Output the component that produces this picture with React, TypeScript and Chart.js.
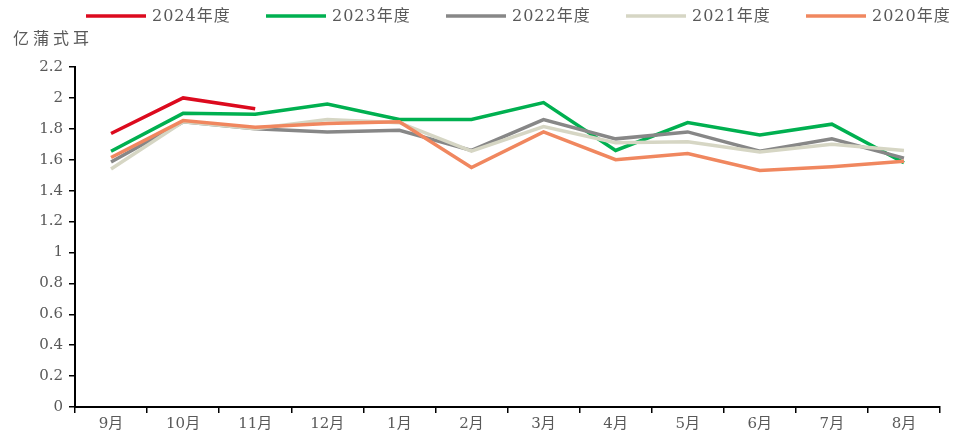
import React, { useEffect, useRef } from 'react';
import { Chart, registerables } from 'chart.js';

Chart.register(...registerables);

const months = ['9月', '10月', '11月', '12月', '1月', '2月', '3月', '4月', '5月', '6月', '7月', '8月'];
const seriesNames = ['2024年度', '2023年度', '2022年度', '2021年度', '2020年度'];
const s2024 = [1.77, 2.0, 1.93, null, null, null, null, null, null, null, null, null];
const s2023 = [1.655, 1.9, 1.895, 1.96, 1.86, 1.86, 1.97, 1.66, 1.84, 1.76, 1.83, 1.58];
const s2022 = [1.585, 1.845, 1.8, 1.78, 1.79, 1.66, 1.86, 1.735, 1.78, 1.655, 1.735, 1.61];
const s2021 = [1.54, 1.845, 1.8, 1.86, 1.84, 1.655, 1.815, 1.71, 1.717, 1.65, 1.7, 1.66];
const s2020 = [1.614, 1.853, 1.81, 1.835, 1.845, 1.55, 1.78, 1.6, 1.64, 1.53, 1.555, 1.59];
const colors = ['#DC0A1E', '#00B050', '#878787', '#D6D6C4', '#F0875F'];
const unitLabel = '亿蒲式耳';

const FONT = "'DejaVu Serif', 'Noto Sans CJK SC', serif";
const TEXT = '#595959';

const customLegend = {
  id: 'customLegend',
  afterDraw(chart: any) {
    const ctx = chart.ctx;
    ctx.save();
    // unit label
    ctx.font = `16px ${FONT}`;
    ctx.fillStyle = TEXT;
    ctx.textBaseline = 'middle';
    ctx.textAlign = 'left';
    try { (ctx as any).letterSpacing = '4px'; } catch (e) {}
    ctx.fillText(unitLabel, 13, 40);
    try { (ctx as any).letterSpacing = '1px'; } catch (e) {}
    // legend
    seriesNames.forEach((name, i) => {
      const x0 = 86 + i * 180;
      const y = 16;
      ctx.strokeStyle = colors[i];
      ctx.lineWidth = 3.5;
      ctx.beginPath();
      ctx.moveTo(x0, y);
      ctx.lineTo(x0 + 60, y);
      ctx.stroke();
      ctx.fillStyle = TEXT;
      ctx.font = `16px ${FONT}`;
      ctx.fillText(name, x0 + 66, y + 1);
    });
    ctx.restore();
  },
};

export default function App() {
  const ref = useRef<HTMLCanvasElement>(null);
  useEffect(() => {
    if (!ref.current) return;
    const allSeries = [s2024, s2023, s2022, s2021, s2020];
    const chart = new Chart(ref.current, {
      type: 'line',
      data: {
        labels: months,
        datasets: allSeries.map((d, i) => ({
          label: seriesNames[i],
          data: d,
          borderColor: colors[i],
          backgroundColor: colors[i],
          borderWidth: 3.5,
          pointRadius: 0,
          tension: 0,
          spanGaps: false,
          order: 5 - i,
        })),
      },
      options: {
        animation: false,
        responsive: false,
        layout: { padding: { top: 67, right: 16, left: 0, bottom: 0 } },
        plugins: {
          legend: { display: false },
          tooltip: { enabled: false },
        },
        scales: {
          x: {
            offset: true,
            grid: {
              display: true,
              drawOnChartArea: false,
              drawTicks: true,
              tickLength: 6,
              color: '#000',
              lineWidth: 1.5,
              offset: true,
            },
            border: { display: true, color: '#000', width: 2 },
            ticks: { color: TEXT, font: { family: FONT, size: 15 }, padding: 2, maxRotation: 0, autoSkip: false },
            afterFit: (scale: any) => { scale.height = 26; },
          },
          y: {
            min: 0,
            max: 2.2,
            grid: {
              display: true,
              drawOnChartArea: false,
              drawTicks: true,
              tickLength: 6,
              color: '#000',
              lineWidth: 1.5,
            },
            border: { display: true, color: '#000', width: 2 },
            ticks: {
              stepSize: 0.2,
              color: TEXT,
              font: { family: FONT, size: 15 },
              padding: 6,
              callback: (v: any) => String(Number(Number(v).toFixed(1))),
            },
            afterFit: (scale: any) => { scale.width = 75; },
          },
        },
      },
      plugins: [customLegend],
    });
    return () => chart.destroy();
  }, []);
  return (
    <div style={{ position: 'absolute', left: 0, top: 0, width: 956, height: 433, background: '#fff' }}>
      <canvas ref={ref} width={956} height={433} style={{ display: 'block' }} />
    </div>
  );
}
